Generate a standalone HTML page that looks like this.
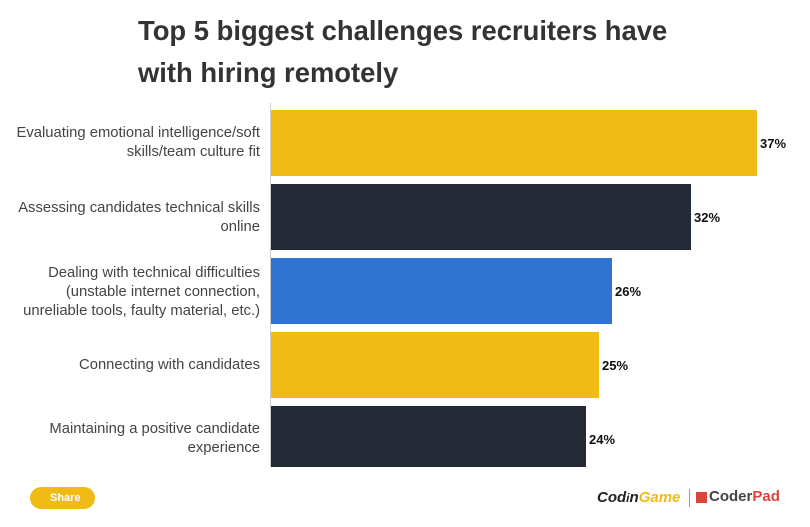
<!DOCTYPE html>
<html><head><style>
body{margin:0;width:810px;height:527px;background:#fff;font-family:"Liberation Sans",sans-serif;position:relative;overflow:hidden}
.t{position:absolute;left:138px;top:10px;font-size:27.4px;font-weight:bold;color:#333;line-height:42px}
.b{position:absolute;left:271px;height:66px}
.v{position:absolute;font-size:13px;font-weight:bold;color:#111}
.l{position:absolute;right:550px;text-align:right;font-size:14.8px;color:#444;line-height:19px;width:270px}
</style></head><body>
<div class="t">Top 5 biggest challenges recruiters have<br>with hiring remotely</div>
<div style="position:absolute;left:270px;top:103px;width:1px;height:364px;background:#ccc"></div>
<div class="b" style="top:110px;width:486px;background:#f0bb14"></div>
<div class="b" style="top:184px;width:420px;background:#242a35"></div>
<div class="b" style="top:258px;width:341px;background:#2f74d0"></div>
<div class="b" style="top:332px;width:328px;background:#f0bb14"></div>
<div class="b" style="top:406px;width:315px;height:61px;background:#242a35"></div>
<div class="v" style="left:760px;top:136px">37%</div>
<div class="v" style="left:694px;top:210px">32%</div>
<div class="v" style="left:615px;top:284px">26%</div>
<div class="v" style="left:602px;top:358px">25%</div>
<div class="v" style="left:589px;top:432px">24%</div>
<div class="l" style="top:124px">Evaluating emotional intelligence/soft<br>skills/team culture fit</div>
<div class="l" style="top:199px">Assessing candidates technical skills<br>online</div>
<div class="l" style="top:264px">Dealing with technical difficulties<br>(unstable internet connection,<br>unreliable tools, faulty material, etc.)</div>
<div class="l" style="top:356px">Connecting with candidates</div>
<div class="l" style="top:420px">Maintaining a positive candidate<br>experience</div>
<div style="position:absolute;left:30px;top:487px;width:45px;height:22px;border-radius:11px;background:#f0bb14;color:#fff;font-size:11px;font-weight:bold;line-height:22px;padding-left:20px">Share</div>
<div style="position:absolute;left:597px;top:489px;font-size:15px;font-weight:bold;font-style:italic;color:#222">Cod<span style="font-size:12px">i</span>n<span style="color:#f0bb14">Game</span></div>
<div style="position:absolute;left:689px;top:489px;width:1px;height:18px;background:#999"></div>
<div style="position:absolute;left:696px;top:492px;width:11px;height:11px;background:#d9453a"></div>
<div style="position:absolute;left:709px;top:488px;font-size:15px;font-weight:bold;color:#444">Coder<span style="color:#d9453a">Pad</span></div>
</body></html>
